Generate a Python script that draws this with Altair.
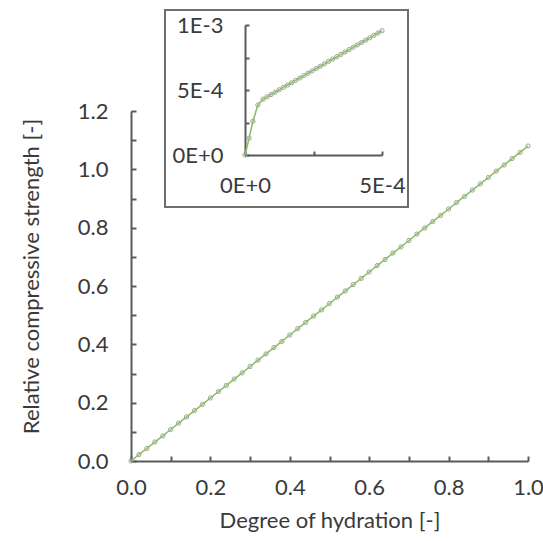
import altair as alt
import pandas as pd

# Main series: degree of hydration vs relative compressive strength
main_x = [0.00, 0.02, 0.04, 0.06, 0.08, 0.10, 0.12, 0.14, 0.16, 0.18,
          0.20, 0.22, 0.24, 0.26, 0.28, 0.30, 0.32, 0.34, 0.36, 0.38,
          0.40, 0.42, 0.44, 0.46, 0.48, 0.50, 0.52, 0.54, 0.56, 0.58,
          0.60, 0.62, 0.64, 0.66, 0.68, 0.70, 0.72, 0.74, 0.76, 0.78,
          0.80, 0.82, 0.84, 0.86, 0.88, 0.90, 0.92, 0.94, 0.96, 0.98, 1.00]
main_y = [0.000, 0.022, 0.043, 0.065, 0.086, 0.108, 0.130, 0.151, 0.173, 0.194,
          0.216, 0.238, 0.259, 0.281, 0.302, 0.324, 0.346, 0.367, 0.389, 0.410,
          0.432, 0.454, 0.475, 0.497, 0.518, 0.540, 0.562, 0.583, 0.605, 0.626,
          0.648, 0.670, 0.691, 0.713, 0.734, 0.756, 0.778, 0.799, 0.821, 0.842,
          0.864, 0.886, 0.907, 0.929, 0.950, 0.972, 0.994, 1.015, 1.037, 1.058, 1.080]

# Inset series (early hydration)
inset_x = [0, 0.15e-4, 0.29e-4, 0.47e-4, 0.66e-4, 0.80e-4, 0.95e-4, 1.10e-4, 1.25e-4,
           1.40e-4, 1.55e-4, 1.70e-4, 1.85e-4, 2.00e-4, 2.15e-4, 2.30e-4, 2.45e-4,
           2.60e-4, 2.75e-4, 2.90e-4, 3.05e-4, 3.20e-4, 3.35e-4, 3.50e-4, 3.65e-4,
           3.80e-4, 3.95e-4, 4.10e-4, 4.25e-4, 4.40e-4, 4.55e-4, 4.70e-4, 4.85e-4, 5.00e-4]
inset_y = [0, 1.30e-4, 2.60e-4, 3.85e-4, 4.30e-4, 4.47e-4, 4.65e-4, 4.83e-4, 5.02e-4,
           5.20e-4, 5.38e-4, 5.56e-4, 5.74e-4, 5.92e-4, 6.11e-4, 6.29e-4, 6.47e-4,
           6.65e-4, 6.83e-4, 7.01e-4, 7.20e-4, 7.38e-4, 7.56e-4, 7.74e-4, 7.92e-4,
           8.11e-4, 8.29e-4, 8.47e-4, 8.65e-4, 8.83e-4, 9.01e-4, 9.20e-4, 9.38e-4, 9.56e-4]

x_ticks = [0.0, 0.1, 0.2, 0.3, 0.4, 0.5, 0.6, 0.7, 0.8, 0.9, 1.0]
x_labels = [0.0, 0.2, 0.4, 0.6, 0.8, 1.0]
y_ticks = [0.0, 0.1, 0.2, 0.3, 0.4, 0.5, 0.6, 0.7, 0.8, 0.9, 1.0, 1.1, 1.2]
y_labels = [0.0, 0.2, 0.4, 0.6, 0.8, 1.0, 1.2]
inset_x_ticks = [0, 2.5e-4, 5e-4]
inset_y_ticks = [0, 2.5e-4, 5e-4, 7.5e-4, 1e-3]

FONT = "Lato"
FS = 22
TXT = "#3a3a3a"
AX = "#5a5a5a"
GREEN = "#8cc063"
BEAD = "#a0a0a0"

W, H = 397, 350

main_df = pd.DataFrame({"x": main_x, "y": main_y})
inset_df = pd.DataFrame({"x": inset_x, "y": inset_y})

mx = alt.Scale(domain=[0, 1], nice=False, zero=False)
my = alt.Scale(domain=[0, 1.2], nice=False, zero=False)

main_axis_common = dict(labelFont=FONT, labelFontSize=FS, labelColor=TXT,
                        titleFont=FONT, titleFontSize=FS, titleColor=TXT,
                        titleFontWeight="normal", domainColor=AX, domainWidth=2,
                        tickSize=0, grid=False, labelFlush=False)

main_line = alt.Chart(main_df).mark_line(color=GREEN, strokeWidth=1.6).encode(
    x=alt.X("x:Q", scale=mx, axis=alt.Axis(orient="bottom", values=x_labels, format=".1f",
                                           title="Degree of hydration [-]", labelPadding=16,
                                           titlePadding=12, **main_axis_common)),
    y=alt.Y("y:Q", scale=my, axis=alt.Axis(orient="left", values=y_labels, format=".1f",
                                           title="Relative compressive strength [-]",
                                           labelPadding=23, titlePadding=34, titleY=165,
                                           **main_axis_common)),
)

tick_axis = dict(labels=False, domain=False, grid=False, title=None,
                 tickColor=AX, tickWidth=2, tickSize=5)

main_pts = alt.Chart(main_df).mark_point(shape="circle", filled=False, stroke=BEAD,
                                         strokeWidth=1, size=18, opacity=1).encode(
    x=alt.X("x:Q", scale=mx, axis=alt.Axis(orient="top", offset=-H, values=x_ticks, **tick_axis)),
    y=alt.Y("y:Q", scale=my, axis=alt.Axis(orient="right", offset=-W, values=y_ticks, **tick_axis)),
)

main = alt.layer(main_pts, main_line).resolve_axis(x="independent", y="independent")

# Inset placement (pixel ranges inside the main plot group)
IX0, IX1 = 114, 251
IY0, IY1 = 44, -86
ix = alt.Scale(domain=[0, 5e-4], range=[IX0, IX1], nice=False, zero=False)
iy = alt.Scale(domain=[0, 1e-3], range=[IY0, IY1], nice=False, zero=False)

label_expr = "(round(datum.value*4000) % 2 == 1) ? '' : upper(format(datum.value, '.0e'))"

inset_axis_common = dict(labelFont=FONT, labelFontSize=FS, labelColor=TXT,
                         domainColor=AX, domainWidth=2, tickSize=0, grid=False,
                         title=None, labelFlush=False, labelExpr=label_expr)

inset_line = alt.Chart(inset_df).mark_line(color=GREEN, strokeWidth=1.6).encode(
    x=alt.X("x:Q", scale=ix, axis=alt.Axis(orient="bottom", offset=IY0 - H, values=inset_x_ticks,
                                           labelPadding=20, **inset_axis_common)),
    y=alt.Y("y:Q", scale=iy, axis=alt.Axis(orient="left", offset=-IX0, values=inset_y_ticks,
                                           labelPadding=22, **inset_axis_common)),
)

inset_tick_axis = dict(labels=False, domain=False, grid=False, title=None,
                       tickColor=AX, tickWidth=2, tickSize=4)

inset_pts = alt.Chart(inset_df).mark_point(shape="circle", filled=False, stroke=BEAD,
                                           strokeWidth=1, size=18, opacity=1).encode(
    x=alt.X("x:Q", scale=ix, axis=alt.Axis(orient="top", offset=-IY0, values=inset_x_ticks,
                                           **inset_tick_axis)),
    y=alt.Y("y:Q", scale=iy, axis=alt.Axis(orient="right", offset=IX0 - W, values=inset_y_ticks,
                                           **inset_tick_axis)),
)

inset = alt.layer(inset_pts, inset_line).resolve_axis(x="independent", y="independent")

frame = alt.Chart(pd.DataFrame({"k": [0]})).mark_rect(
    fill="white", fillOpacity=0, stroke="#6e6e6e", strokeWidth=2
).encode(x=alt.value(34), x2=alt.value(277), y=alt.value(-101), y2=alt.value(96))

chart = alt.layer(frame, main, inset).resolve_scale(
    x="independent", y="independent"
).properties(
    width=W, height=H,
    autosize=alt.AutoSizeParams(type="none"),
    padding={"left": 131, "top": 111, "right": 15, "bottom": 80},
    background="white",
).configure_view(stroke=None)

chart.save("out.html", embed_options={"renderer": "svg", "actions": False})
